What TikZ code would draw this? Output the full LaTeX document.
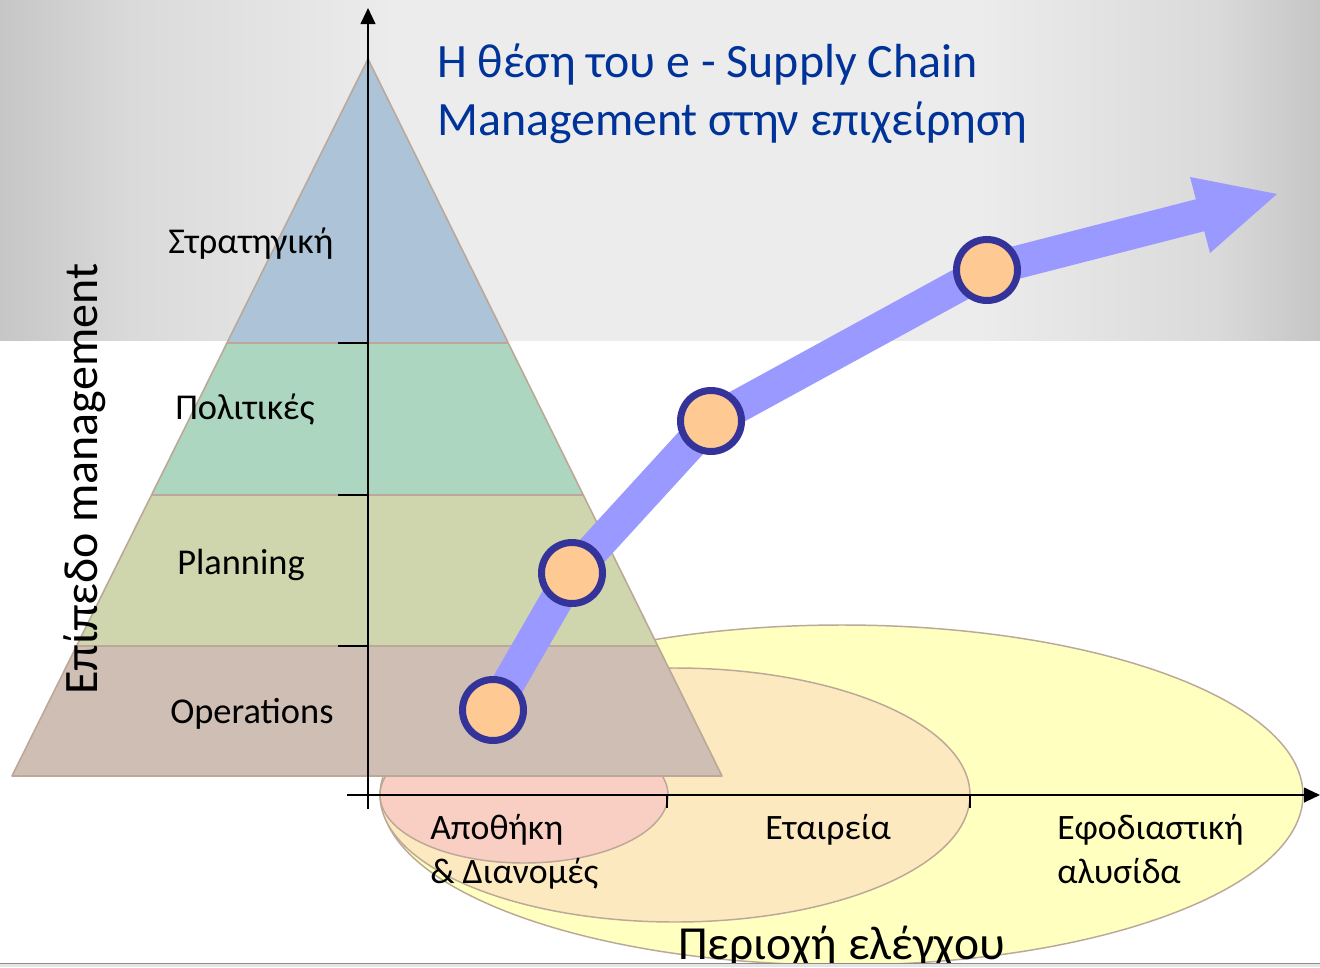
\documentclass[tikz,border=0pt]{standalone}
\usepackage{fontspec}
\setmainfont{Carlito}
\usetikzlibrary{arrows.meta}

\definecolor{titleblue}{HTML}{003399}
\definecolor{stratblue}{HTML}{ADC4D8}
\definecolor{policygreen}{HTML}{ADD6C1}
\definecolor{planolive}{HTML}{CFD6AE}
\definecolor{opstan}{HTML}{CFBEB3}
\definecolor{pyrline}{HTML}{BCA898}
\definecolor{chainyellow}{HTML}{FFFFC0}
\definecolor{firmpeach}{HTML}{FDE9C0}
\definecolor{storepink}{HTML}{F9CFC4}
\definecolor{flowblue}{HTML}{9999FF}
\definecolor{stagefill}{HTML}{FFC993}
\definecolor{stageline}{HTML}{333399}
\definecolor{slidedark}{HTML}{C6C6C6}
\definecolor{slidemid}{HTML}{DADADA}
\definecolor{slidelight}{HTML}{ECECEC}

\pgfdeclarehorizontalshading{slidegray}{100bp}{color(0bp)=(slidedark); color(25bp)=(slidedark);
  color(30bp)=(slidemid); color(40bp)=(slidelight); color(62bp)=(slidelight);
  color(71bp)=(slidemid); color(75bp)=(slidedark); color(100bp)=(slidedark)}

\tikzset{
  axisline/.style={black,line width=1.5pt},
  pyredge/.style={pyrline,line width=1.2pt},
  zoneedge/.style={pyrline,line width=1.1pt},
  flowband/.style={flowblue,line width=24.75pt,line join=round},
  stage/.style={circle,draw=stageline,fill=stagefill,line width=5.25pt,minimum size=45.75pt,inner sep=0pt},
  layerlabel/.style={anchor=base west,inner sep=0pt,font=\fontsize{27.3}{33}\selectfont},
  zonelabel/.style={anchor=base west,inner sep=0pt,align=left,font=\fontsize{26.8}{33}\selectfont}
}

\begin{document}
\begin{tikzpicture}[x=0.75pt,y=-0.75pt]

    \useasboundingbox (0,0) rectangle (1320,967);
    \fill[white] (0,0) rectangle (1320,967);

    %slide background
    \shade[shading=slidegray] (0,0) rectangle (1320,340);

    %draw control areas
    \draw[zoneedge,fill=chainyellow] (842,795) ellipse [x radius=461, y radius=170];
    \draw[zoneedge,fill=firmpeach] (675,795) ellipse [x radius=295, y radius=127];
    \draw[zoneedge,fill=storepink] (524,795) ellipse [x radius=144, y radius=68];

    %draw pyramid
    \coordinate (apex) at (368,59);
    \coordinate (baseL) at (12,776);
    \coordinate (baseR) at (722,776);
    \begin{scope}
        \clip (apex) -- (baseL) -- (baseR) -- cycle;
        \fill[stratblue] (0,0) rectangle (1320,343);
        \fill[policygreen] (0,343) rectangle (1320,495);
        \fill[planolive] (0,495) rectangle (1320,646);
        \fill[opstan] (0,646) rectangle (1320,777);
        \draw[pyredge] (0,343) -- (1320,343);
        \draw[pyredge] (0,495) -- (1320,495);
        \draw[pyredge] (0,646) -- (1320,646);
    \end{scope}
    \draw[pyredge,line join=round] (apex) -- (baseL) -- (baseR) -- cycle;

    %draw axis
    \coordinate (yfoot) at (368,809);
    \coordinate (ytop) at (368,8);
    \coordinate (xfoot) at (347,795);
    \coordinate (xtip) at (1320,795);
    \draw[axisline,-{Triangle[length=12pt,width=11pt]}] (yfoot) -- (ytop);
    \draw[axisline,-{Triangle[length=12pt,width=11pt]}] (xfoot) -- (xtip);

    %draw ticks
    \draw[axisline] (338,343) -- (368,343);
    \draw[axisline] (338,495) -- (368,495);
    \draw[axisline] (338,646) -- (368,646);
    \draw[axisline] (667,795) -- (667,808);
    \draw[axisline] (970,795) -- (970,808);

    %draw growth arrow
    \coordinate (p1) at (493,710);
    \coordinate (p2) at (572,573);
    \coordinate (p3) at (711,421);
    \coordinate (p4) at (987,270);
    \coordinate (neck) at (1201,215);
    \coordinate (tip) at (1277,194);
    \coordinate (wingA) at (1190,177);
    \coordinate (wingB) at (1210,253);
    \draw[flowband] (p1) -- (p2) -- (p3) -- (p4) -- (neck);
    \fill[flowblue] (wingA) -- (tip) -- (wingB) -- cycle;

    \node[stage] (s1) at (p1) {};
    \node[stage] (s2) at (p2) {};
    \node[stage] (s3) at (p3) {};
    \node[stage] (s4) at (p4) {};

    %draw title
    \node[anchor=base west,inner sep=0pt,align=left,text=titleblue,
          font=\fontsize{35.9}{43}\selectfont] (title) at (437,135)
          {Η θέση του e - Supply Chain\\Management στην επιχείρηση};

    %draw axis labels
    \node[anchor=base west,inner sep=0pt,rotate=90,font=\fontsize{36}{43}\selectfont]
          (ylabel) at (97,695) {Επίπεδο management};
    \node[anchor=base west,inner sep=0pt,font=\fontsize{35.6}{43}\selectfont]
          (xlabel) at (678,959) {Περιοχή ελέγχου};

    %draw level labels
    \node[layerlabel] (strat) at (168,253) {Στρατηγική};
    \node[layerlabel] (policy) at (175,419) {Πολιτικές};
    \node[layerlabel] (plan) at (177,574) {Planning};
    \node[layerlabel] (ops) at (170,723) {Operations};

    %draw area labels
    \node[zonelabel] (store) at (430,883) {Αποθήκη\\\& Διανομές};
    \node[zonelabel] (firm) at (765,839) {Εταιρεία};
    \node[zonelabel] (chain) at (1057,883) {Εφοδιαστική\\αλυσίδα};

    %slide edge
    \fill[black!10] (0,963) rectangle (1320,967);
    \draw[black!45,line width=0.6pt] (0,963) -- (1320,963);

\end{tikzpicture}
\end{document}
